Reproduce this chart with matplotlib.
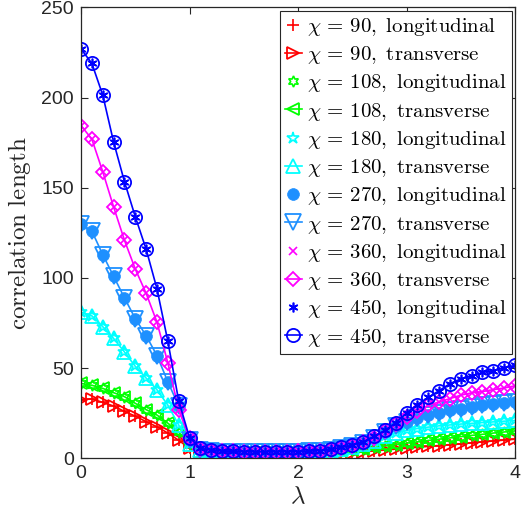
import numpy as np
import matplotlib
matplotlib.use("Agg")
import matplotlib.pyplot as plt

plt.rcParams['mathtext.fontset'] = 'cm'
plt.rcParams['font.family'] = ['Liberation Sans', 'DejaVu Sans']

lam = np.round(np.arange(0, 4.0001, 0.1), 1)

chi_values = [90, 108, 180, 270, 360, 450]

xi_90 = [32.3, 33.0, 31.0, 29.0, 26.0, 23.4, 20.3, 17.5, 14.0, 10.0, 5.5,
         3.2, 2.7, 2.5, 2.5, 2.5, 2.5, 2.5, 2.5, 2.5, 2.5, 2.6, 2.6,
         2.7, 2.9, 3.2, 3.6, 4.1, 4.6, 5.1, 5.6, 6.1, 6.6, 7.1, 7.6, 8.1,
         8.6, 9.1, 9.6, 10.1, 10.6]
xi_108 = [41.5, 40.5, 38.8, 36.4, 34.2, 30.5, 27.0, 24.0, 19.5, 14.5, 8.0,
          4.2, 3.5, 3.2, 3.1, 3.1, 3.1, 3.1, 3.1, 3.1, 3.1, 3.2, 3.3,
          3.6, 4.0, 4.6, 5.3, 6.0, 6.8, 7.6, 8.4, 9.1, 9.9, 10.6, 11.3, 12.0,
          12.7, 13.3, 14.0, 14.6, 15.2]
xi_180 = [81.0, 79.0, 73.0, 66.5, 59.0, 51.0, 44.5, 38.0, 29.5, 18.5, 8.0,
          4.5, 3.8, 3.5, 3.4, 3.4, 3.4, 3.4, 3.4, 3.4, 3.5, 3.6, 3.8,
          4.3, 5.0, 6.0, 7.7, 9.8, 12.2, 14.0, 15.5, 16.5, 17.3, 18.0, 18.5, 19.0,
          19.4, 19.8, 20.2, 20.6, 21.0]
xi_270 = [130.0, 126.0, 113.0, 101.0, 89.0, 77.5, 68.0, 57.0, 42.5, 29.0, 10.0,
          4.8, 4.0, 3.7, 3.6, 3.6, 3.6, 3.6, 3.6, 3.6, 3.7, 3.8, 4.0,
          4.6, 5.5, 6.6, 8.5, 11.5, 14.5, 17.8, 20.2, 22.2, 24.0, 25.3, 26.7, 27.6,
          28.5, 29.3, 30.0, 30.7, 31.3]
xi_360 = [184.5, 177.0, 159.0, 139.5, 121.0, 105.0, 91.5, 75.5, 53.0, 27.0, 11.0,
          5.0, 4.2, 3.9, 3.8, 3.7, 3.7, 3.7, 3.7, 3.7, 3.8, 3.9, 4.2,
          4.8, 5.8, 6.9, 8.8, 11.5, 15.0, 19.0, 23.0, 26.5, 29.3, 31.3, 33.1, 35.0,
          36.3, 37.0, 38.1, 39.0, 40.2]
xi_450 = [227.0, 219.0, 201.5, 175.5, 153.5, 134.0, 116.0, 94.0, 65.0, 32.0, 11.5,
          5.5, 4.5, 4.0, 3.8, 3.7, 3.6, 3.6, 3.6, 3.7, 3.7, 3.9, 4.3,
          5.0, 6.0, 7.2, 9.2, 12.2, 15.5, 19.8, 25.0, 29.8, 33.8, 37.5, 41.4, 44.0,
          45.8, 47.6, 48.6, 50.3, 51.5]

transverse = [xi_90, xi_108, xi_180, xi_270, xi_360, xi_450]
longitudinal = [xi_90, xi_108, xi_180, xi_270, xi_360, xi_450]

colors = ['#ff0000', '#00ff00', '#00ffff', '#1e90ff', '#ff00ff', '#0000ff']
long_markers = [dict(marker='+', markersize=8, fillstyle='none', markeredgewidth=1.2),
                dict(marker=(6, 1, 0), markersize=8, fillstyle='none', markeredgewidth=1.2),
                dict(marker='*', markersize=9, fillstyle='none', markeredgewidth=1.2),
                dict(marker='o', markersize=8.5, markeredgewidth=0.5),
                dict(marker='x', markersize=6, markeredgewidth=1.2),
                dict(marker=(6, 2, 0), markersize=7, markeredgewidth=1.2)]
trans_markers = ['>', '<', '^', 'v', 'D', 'o']
trans_sizes = [9, 9, 10, 11, 7.5, 9.5]

fig = plt.figure(figsize=(5.23, 5.16), dpi=100)
ax = fig.add_axes([0.1549, 0.1118, 0.8298, 0.8737])

for chi, c, lm, tm, ts, yl, yt in zip(chi_values, colors, long_markers,
                                       trans_markers, trans_sizes,
                                       longitudinal, transverse):
    ax.plot(lam, yl, linestyle='none', color=c, markeredgecolor=c,
            label=r'$\chi\,=\,%d,\ \mathrm{longitudinal}$' % chi, **lm)
    ax.plot(lam, yt, linestyle='-', linewidth=1.2, color=c, marker=tm,
            markersize=ts, fillstyle='none', markeredgewidth=1.3,
            label=r'$\chi\,=\,%d,\ \mathrm{transverse}$' % chi)

ax.set_xlim(0, 4)
ax.set_ylim(0, 250)
ax.set_xticks([0, 1, 2, 3, 4])
ax.set_yticks([0, 50, 100, 150, 200, 250])
tc = '#262626'
ax.tick_params(direction='in', top=True, right=True, length=5, width=0.8,
               labelsize=14, colors=tc, pad=5)
for s in ax.spines.values():
    s.set_color(tc)
    s.set_linewidth(0.9)

ax.set_xlabel(r'$\lambda$', fontsize=18, color=tc, labelpad=1)
ax.set_ylabel(r'$\mathrm{correlation\ length}$', fontsize=18, color=tc, labelpad=6)

leg = ax.legend(loc='upper right', fontsize=15, handlelength=0.8,
                handletextpad=0.25, borderpad=0.25, labelspacing=0.3,
                borderaxespad=0.15, fancybox=False, framealpha=1,
                edgecolor=tc)
leg.get_frame().set_linewidth(0.8)

fig.savefig('out.png', dpi=100)
